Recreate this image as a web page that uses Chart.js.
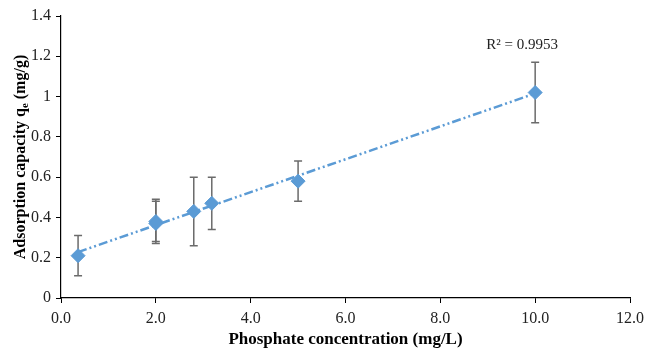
<!DOCTYPE html>
<html>
<head>
<meta charset="utf-8">
<script src="https://cdn.jsdelivr.net/npm/chart.js@4.4.1/dist/chart.umd.min.js"></script>
<style>
  html, body { margin: 0; padding: 0; background: #fff; }
  #wrap { width: 646px; height: 352px; position: relative; }
</style>
</head>
<body>
<div id="wrap"><canvas id="c"></canvas></div>
<script>
// data
const concX = [0.36, 2.0, 2.0, 2.8, 3.18, 5.0, 10.0];
const capacityY = [0.21, 0.38, 0.37, 0.43, 0.47, 0.58, 1.02];
const errLow = [0.11, 0.27, 0.28, 0.26, 0.34, 0.48, 0.87];
const errHigh = [0.31, 0.49, 0.48, 0.60, 0.60, 0.68, 1.17];
const r2Label = 'R² = 0.9953';

const BLUE = '#5B9BD5';
const SERIF = '"Liberation Serif", "Times New Roman", serif';

// linear trendline (least squares, like Excel)
const n = concX.length;
const mx = concX.reduce((a, b) => a + b, 0) / n;
const my = capacityY.reduce((a, b) => a + b, 0) / n;
let sxy = 0, sxx = 0;
for (let i = 0; i < n; i++) {
  sxy += (concX[i] - mx) * (capacityY[i] - my);
  sxx += (concX[i] - mx) ** 2;
}
const slope = sxy / sxx;
const icpt = my - slope * mx;
const xMin = Math.min(...concX), xMax = Math.max(...concX);
const trend = [
  { x: xMin, y: icpt + slope * xMin },
  { x: xMax, y: icpt + slope * xMax }
];

const points = concX.map((x, i) => ({ x, y: capacityY[i] }));

// error bars + labels drawn through the scales
const extras = {
  id: 'extras',
  beforeDatasetsDraw(chart) {
    const { ctx, scales: { x, y } } = chart;
    ctx.save();
    ctx.strokeStyle = '#6b6b6b';
    ctx.lineWidth = 1.5;
    concX.forEach((cx, i) => {
      const px = x.getPixelForValue(cx);
      const lo = y.getPixelForValue(errLow[i]);
      const hi = y.getPixelForValue(errHigh[i]);
      ctx.beginPath();
      ctx.moveTo(px, lo); ctx.lineTo(px, hi);
      ctx.moveTo(px - 4, lo); ctx.lineTo(px + 4, lo);
      ctx.moveTo(px - 4, hi); ctx.lineTo(px + 4, hi);
      ctx.stroke();
    });
    ctx.restore();
  },
  afterDraw(chart) {
    const { ctx, chartArea, scales: { x, y } } = chart;
    ctx.save();
    // R² label
    ctx.fillStyle = '#222';
    ctx.font = '15px ' + SERIF;
    ctx.textAlign = 'center';
    ctx.textBaseline = 'middle';
    ctx.fillText(r2Label, x.getPixelForValue(10.0) - 13, y.getPixelForValue(1.255));

    // y axis title with subscript
    const cy = (chartArea.top + chartArea.bottom) / 2;
    ctx.translate(20, cy);
    ctx.rotate(-Math.PI / 2);
    const main = 'Adsorption capacity q';
    const sub = 'e';
    const tail = ' (mg/g)';
    const fMain = 'bold 16px ' + SERIF;
    const fSub = 'bold 11px ' + SERIF;
    ctx.font = fMain;
    const w1 = ctx.measureText(main).width;
    const w3 = ctx.measureText(tail).width;
    ctx.font = fSub;
    const w2 = ctx.measureText(sub).width;
    let sx = -(w1 + w2 + w3) / 2;
    ctx.textAlign = 'left';
    ctx.textBaseline = 'alphabetic';
    ctx.fillStyle = '#000';
    ctx.font = fMain;
    ctx.fillText(main, sx, 5);
    sx += w1;
    ctx.font = fSub;
    ctx.fillText(sub, sx, 8);
    sx += w2;
    ctx.font = fMain;
    ctx.fillText(tail, sx, 5);
    ctx.restore();
  }
};

new Chart(document.getElementById('c'), {
  type: 'scatter',
  data: {
    datasets: [
      {
        type: 'line',
        data: trend,
        borderColor: BLUE,
        borderWidth: 2.5,
        borderDash: [9, 3, 2, 3, 2, 3],
        pointRadius: 0,
        fill: false,
        order: 1
      },
      {
        data: points,
        backgroundColor: BLUE,
        borderColor: BLUE,
        pointStyle: 'rectRot',
        pointRadius: 7,
        pointHoverRadius: 7,
        order: 0
      }
    ]
  },
  options: {
    responsive: true,
    maintainAspectRatio: false,
    animation: false,
    events: [],
    layout: { padding: { left: 0, top: 16, right: 16, bottom: 0 } },
    plugins: {
      legend: { display: false },
      tooltip: { enabled: false }
    },
    scales: {
      x: {
        type: 'linear',
        min: 0,
        max: 12,
        afterFit(s) {
          s.height = 54;
          s.paddingLeft = 0;
          s.paddingRight = 0;
        },
        ticks: {
          stepSize: 2,
          color: '#222',
          font: { size: 16, family: SERIF },
          padding: 6,
          maxRotation: 0,
          callback: v => v.toFixed(1)
        },
        grid: { drawOnChartArea: false, tickLength: 5, color: '#000' },
        border: { color: '#000', width: 1.2 },
        title: {
          display: true,
          text: 'Phosphate concentration (mg/L)',
          color: '#000',
          font: { size: 17, weight: 'bold', family: SERIF },
          padding: { top: 0, bottom: 2 }
        }
      },
      y: {
        type: 'linear',
        min: 0,
        max: 1.4,
        afterFit(s) {
          s.width = 61;
          s.paddingTop = 0;
          s.paddingBottom = 0;
        },
        ticks: {
          stepSize: 0.2,
          color: '#222',
          font: { size: 16, family: SERIF },
          padding: 5,
          callback: v => String(Math.round(v * 10) / 10)
        },
        grid: { drawOnChartArea: false, tickLength: 5, color: '#000' },
        border: { color: '#000', width: 1.2 }
      }
    }
  },
  plugins: [extras]
});
</script>
</body>
</html>
